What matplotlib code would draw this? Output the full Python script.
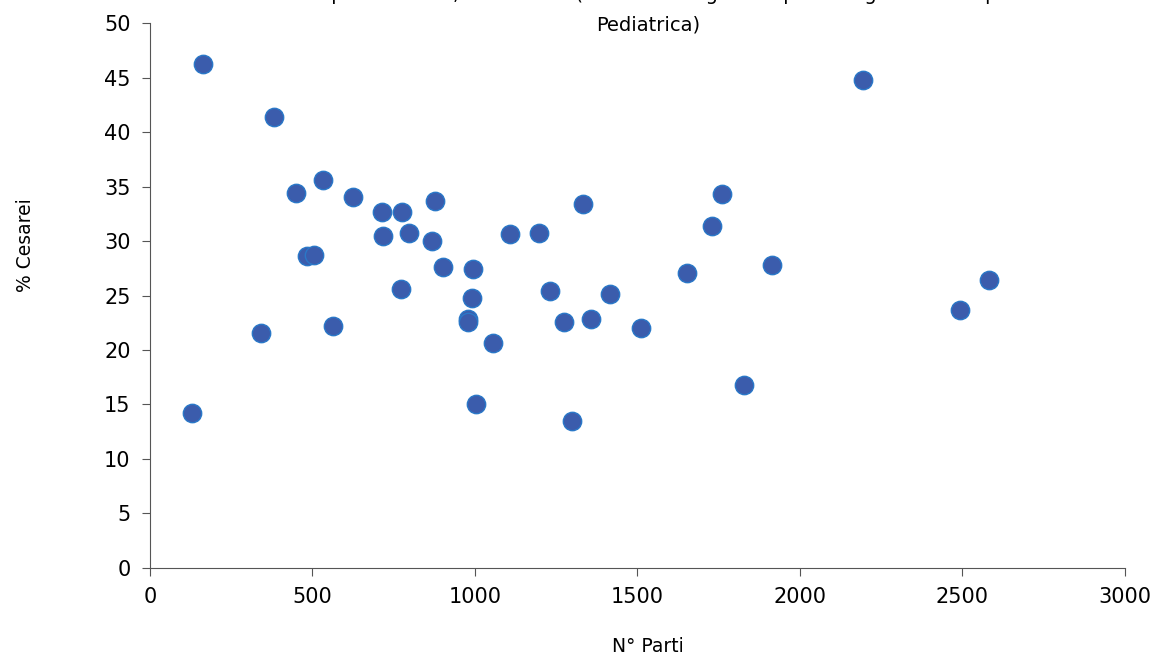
import matplotlib
matplotlib.use("Agg")
import matplotlib.pyplot as plt

# N° parti (x) e % cesarei (y) per struttura
parti = [163, 382, 449, 532, 625, 714, 775, 877, 717, 797, 868, 483, 505,
         902, 994, 772, 991, 978, 978, 563, 342, 1055, 1003, 129, 1108, 1196,
         1332, 1232, 1274, 1357, 1415, 1511, 1298, 1652, 1729, 1760, 1914,
         1828, 2194, 2492, 2582]
cesarei = [46.2, 41.4, 34.4, 35.6, 34.0, 32.7, 32.7, 33.7, 30.5, 30.7, 30.0,
           28.6, 28.7, 27.6, 27.4, 25.6, 24.8, 22.8, 22.6, 22.2, 21.6, 20.6,
           15.0, 14.2, 30.6, 30.7, 33.4, 25.4, 22.6, 22.8, 25.1, 22.0, 13.5,
           27.1, 31.4, 34.3, 27.8, 16.8, 44.8, 23.7, 26.4]

title_l1 = "Percentuale di parti cesarei, anno 2010 (Confronto regionale per categoria di Terapia Intensiva"
title_l2 = "Pediatrica)"

fig = plt.figure(figsize=(11.57, 6.58), dpi=100)
ax = fig.add_axes([0.1296, 0.1368, 0.8427, 0.8282])

ax.scatter(parti, cesarei, s=175, color="#3b5cac", edgecolors="#2a78c8",
           linewidths=1.0, zorder=3)

ax.set_xlim(0, 3000)
ax.set_ylim(0, 50)
ax.set_xticks(range(0, 3001, 500))
ax.set_yticks(range(0, 51, 5))
ax.tick_params(labelsize=15, length=6, color="#555555", pad=8)

for s in ["top", "right"]:
    ax.spines[s].set_visible(False)
for s in ["left", "bottom"]:
    ax.spines[s].set_color("#555555")

fig.text(0.022, 1 - 245 / 658, "% Cesarei", rotation=90, ha="center",
         va="center", fontsize=13.5)
fig.text(0.56, 1 - 647 / 658, "N° Parti", ha="center", va="center", fontsize=13.5)
fig.text(0.56, 1 + 5 / 658, title_l1, ha="center", va="center", fontsize=14)
fig.text(0.56, 1 - 25 / 658, title_l2, ha="center", va="center", fontsize=14)

fig.savefig("out.png", dpi=100)
